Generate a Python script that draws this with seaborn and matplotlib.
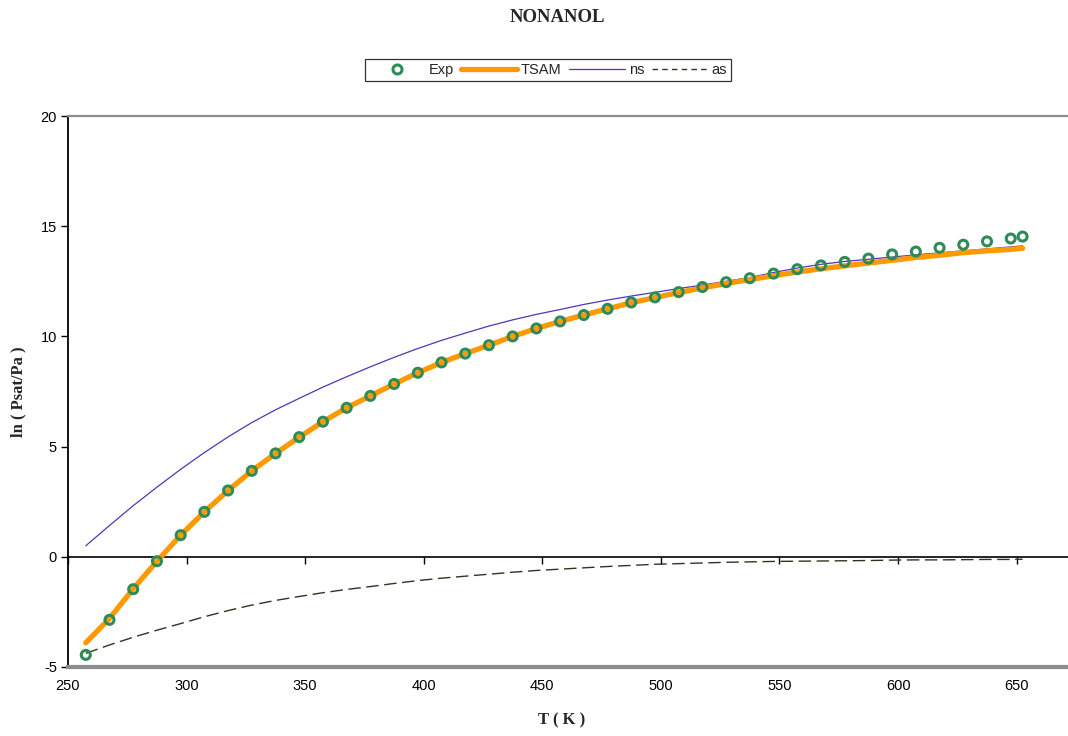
import numpy as np
import pandas as pd
import matplotlib
matplotlib.use("Agg")
import matplotlib.pyplot as plt
import seaborn as sns
from matplotlib.lines import Line2D

# ---- data ----
T = [257.5, 267.5, 277.5, 287.5, 297.5, 307.5, 317.5, 327.5, 337.5, 347.5,
     357.5, 367.5, 377.5, 387.5, 397.5, 407.5, 417.5, 427.5, 437.5, 447.5,
     457.5, 467.5, 477.5, 487.5, 497.5, 507.5, 517.5, 527.5, 537.5, 547.5,
     557.5, 567.5, 577.5, 587.5, 597.5, 607.5, 617.5, 627.5, 637.5, 647.5,
     652.5]
exp_vals = [-4.45, -2.86, -1.47, -0.20, 0.98, 2.04, 3.01, 3.90, 4.69, 5.43,
            6.13, 6.76, 7.30, 7.84, 8.35, 8.82, 9.22, 9.60, 10.00, 10.36,
            10.68, 10.97, 11.25, 11.54, 11.77, 12.01, 12.24, 12.46, 12.64, 12.85,
            13.05, 13.22, 13.38, 13.53, 13.72, 13.85, 14.02, 14.16, 14.31, 14.44,
            14.53]
tsam_vals = [-3.90, -2.80, -1.45, -0.20, 0.98, 2.04, 3.01, 3.90, 4.69, 5.43,
             6.13, 6.76, 7.30, 7.84, 8.35, 8.82, 9.22, 9.60, 10.00, 10.36,
             10.68, 10.97, 11.25, 11.53, 11.76, 11.99, 12.20, 12.40, 12.58, 12.75,
             12.92, 13.07, 13.20, 13.33, 13.45, 13.58, 13.68, 13.80, 13.88, 13.95,
             14.00]
ns_vals = [0.50, 1.42, 2.32, 3.16, 3.97, 4.73, 5.44, 6.09, 6.67, 7.19,
           7.70, 8.17, 8.62, 9.05, 9.45, 9.82, 10.15, 10.47, 10.75, 11.00,
           11.22, 11.45, 11.65, 11.83, 12.00, 12.17, 12.33, 12.50, 12.67, 12.90,
           13.10, 13.27, 13.40, 13.50, 13.60, 13.70, 13.79, 13.88, 13.97, 14.06,
           14.11]
as_vals = [-4.38, -4.00, -3.65, -3.33, -3.03, -2.72, -2.44, -2.19, -1.98, -1.80,
           -1.63, -1.48, -1.35, -1.21, -1.08, -0.97, -0.88, -0.79, -0.70, -0.62,
           -0.56, -0.50, -0.44, -0.39, -0.34, -0.31, -0.28, -0.25, -0.23, -0.21,
           -0.20, -0.19, -0.18, -0.17, -0.15, -0.14, -0.14, -0.13, -0.12, -0.12,
           -0.11]
x_ticks = [250, 300, 350, 400, 450, 500, 550, 600, 650]
y_ticks = [-5, 0, 5, 10, 15, 20]

df = pd.DataFrame({"T": T, "Exp": exp_vals, "TSAM": tsam_vals,
                   "ns": ns_vals, "as": as_vals})

sns.set_theme(style="white")
plt.rcParams["font.family"] = ["Liberation Sans", "DejaVu Sans"]
plt.rcParams["axes.unicode_minus"] = False

c_exp = "#2E8B57"
c_tsam = "#FF9900"
c_ns = "#5533BB"
c_as = "#333322"

fig = plt.figure(figsize=(10.68, 7.36), dpi=100)
ax = fig.add_axes([68 / 1068, 1 - 667 / 736, 1.003 - 68 / 1068, (667 - 116) / 736])

sns.lineplot(data=df, x="T", y="as", ax=ax, color=c_as, lw=1.0,
             linestyle=(0, (9, 4)), zorder=2)
sns.lineplot(data=df, x="T", y="ns", ax=ax, color=c_ns, lw=0.9, zorder=3)
sns.lineplot(data=df, x="T", y="TSAM", ax=ax, color=c_tsam, lw=3.8, zorder=4)
sns.scatterplot(data=df, x="T", y="Exp", ax=ax, marker="o", s=42,
                facecolor="none", edgecolor=c_exp, linewidth=2.2, zorder=5)

ax.set_xlim(250, 673)
ax.set_ylim(-5, 20)
ax.set_xticks(x_ticks)
ax.set_yticks(y_ticks)
ax.tick_params(axis="x", length=0, labelsize=10.5, pad=9, colors="black")
ax.tick_params(axis="y", length=5, width=1, direction="out", left=True,
               labelsize=10.5, pad=3, colors="black")

for side in ["top", "right"]:
    ax.spines[side].set_color("#8c8c8c")
    ax.spines[side].set_linewidth(1.6)
ax.spines["bottom"].set_color("#8c8c8c")
ax.spines["bottom"].set_linewidth(3.0)
ax.spines["left"].set_color("black")
ax.spines["left"].set_linewidth(1.3)

# zero axis with tick marks
sec = ax.secondary_xaxis(0.2)
sec.set_xticks(x_ticks)
sec.tick_params(axis="x", length=5, width=1, direction="out", labelbottom=False,
                colors="black")
sec.spines["bottom"].set_color("black")
sec.spines["bottom"].set_linewidth(1.2)

ax.set_xlabel("T ( K )", family=["Liberation Serif"], fontweight="bold",
              fontsize=12, labelpad=7)
ax.xaxis.set_label_coords(0.492, -0.082)
ax.set_ylabel("ln ( Psat/Pa )", family=["Liberation Serif"], fontweight="bold",
              fontsize=12, labelpad=10)

fig.text(0.522, 1 - 18 / 736, "NONANOL", ha="center", va="center",
         family=["Liberation Serif"], fontweight="bold", fontsize=13.5)

handles = [
    Line2D([], [], marker="o", linestyle="none", markersize=6.5,
           markerfacecolor="none", markeredgecolor=c_exp, markeredgewidth=2.2),
    Line2D([], [], color=c_tsam, lw=3.8),
    Line2D([], [], color=c_ns, lw=0.9),
    Line2D([], [], color=c_as, lw=1.0, linestyle=(0, (4, 3))),
]
leg = fig.legend(handles, ["Exp", "TSAM", "ns", "as"], ncol=4,
                 loc="center", bbox_to_anchor=(548 / 1068, 1 - 70 / 736),
                 frameon=True, fancybox=False, fontsize=10.5, handlelength=3.8,
                 handletextpad=0.3, columnspacing=0.5, borderpad=0.3,
                 borderaxespad=0)
leg.get_frame().set_edgecolor("black")
leg.get_frame().set_linewidth(0.9)

fig.savefig("out.png", dpi=100)
